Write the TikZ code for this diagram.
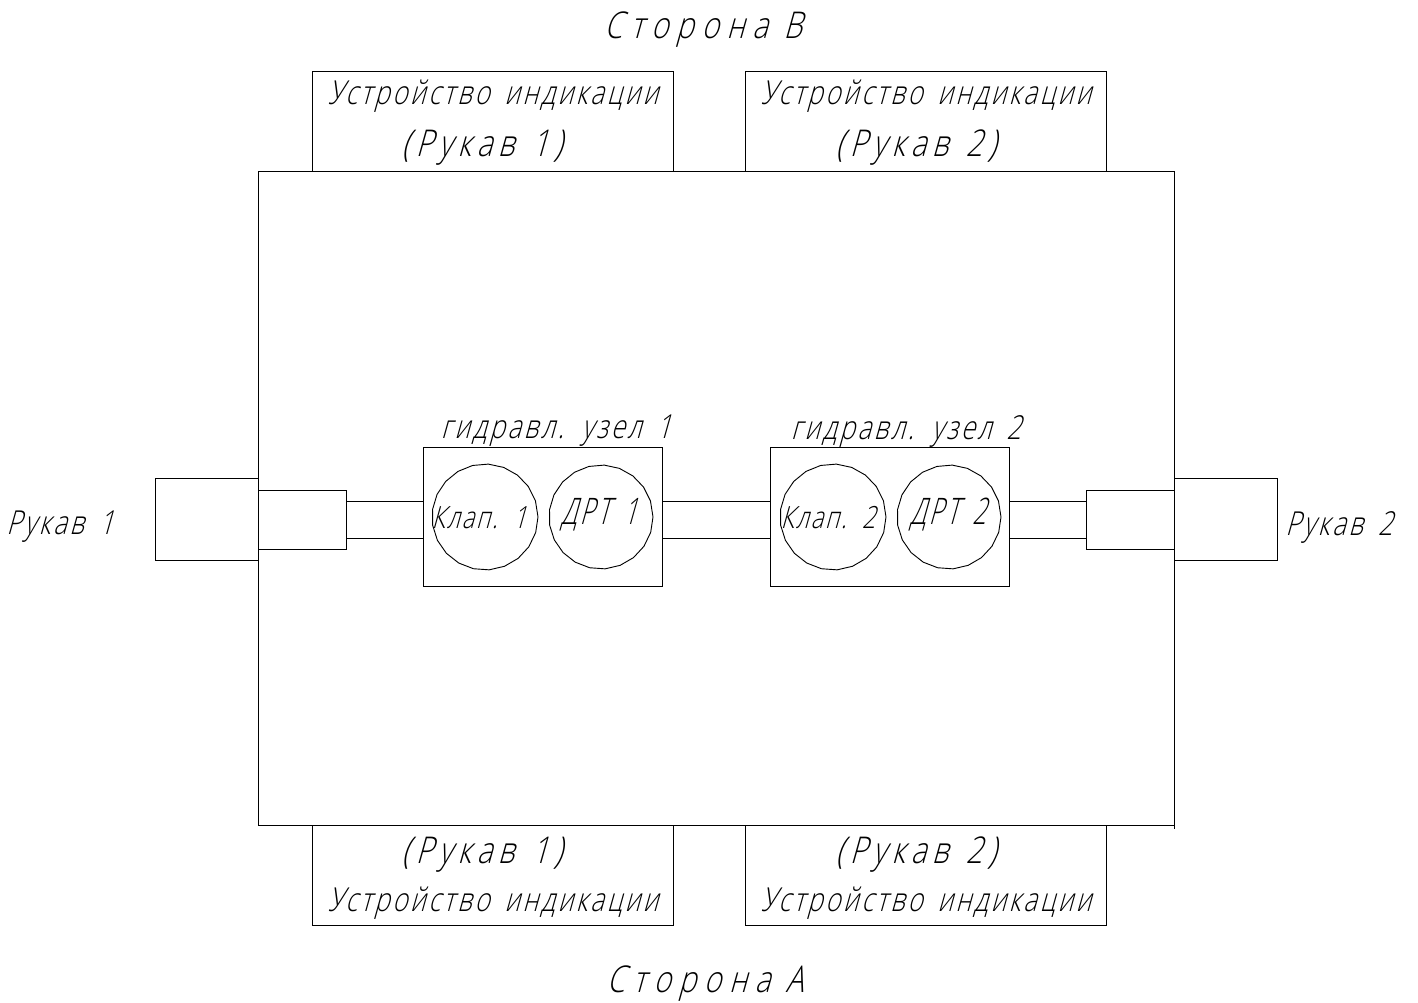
\documentclass[tikz,border=0pt]{standalone}
\usepackage{fontspec}
\newfontfamily\gostA[FakeSlant=0.28,FakeStretch=0.78,LetterSpace=8,WordSpace=1.6]{Open Sans Light}
\newfontfamily\gostB[FakeSlant=0.28,FakeStretch=0.80,LetterSpace=15,WordSpace=1.3]{Open Sans Light}
\newfontfamily\gostE[FakeSlant=0.28,FakeStretch=0.80,LetterSpace=21]{Open Sans Light}
\newfontfamily\gostC[FakeSlant=0.28,FakeStretch=0.77,LetterSpace=6,WordSpace=1.6]{Open Sans Light}
\newfontfamily\gostD[FakeSlant=0.28,FakeStretch=0.66,LetterSpace=8,WordSpace=1.5]{Open Sans Light}
\tikzset{
  px/.style={x=0.01cm,y=-0.01cm},
  ln/.style={draw=black,line width=0.26pt},
  lab/.style={inner sep=0pt,font=\gostA\fontsize{9.4pt}{9.4pt}\selectfont},
  big/.style={inner sep=0pt,font=\gostB\fontsize{10.5pt}{10.5pt}\selectfont},
  side/.style={inner sep=0pt,font=\gostE\fontsize{10.5pt}{10.5pt}\selectfont},
  klap/.style={inner sep=0pt,font=\gostC\fontsize{8.7pt}{8.7pt}\selectfont},
  drt/.style={inner sep=0pt,font=\gostD\fontsize{10.4pt}{10.4pt}\selectfont},
}
\begin{document}
\begin{tikzpicture}[px]
\useasboundingbox (0,0) rectangle (1418,1003);
\path[fill=white] (0,0) rectangle (1418,1003);
% body
\draw[ln] (258,171) rectangle (1174,825);
\draw[ln] (1174,825) -- (1174,829);
% indicator boxes
\draw[ln] (312,171) -- (312,71) -- (673,71) -- (673,171);
\draw[ln] (745,171) -- (745,71) -- (1106,71) -- (1106,171);
\draw[ln] (312,825) -- (312,925) -- (673,925) -- (673,825);
\draw[ln] (745,825) -- (745,925) -- (1106,925) -- (1106,825);
% hose ports
\draw[ln] (258,478) -- (155,478) -- (155,560) -- (258,560);
\draw[ln] (258,490) -- (346,490) -- (346,549) -- (258,549);
\draw[ln] (1174,478) -- (1277,478) -- (1277,560) -- (1174,560);
\draw[ln] (1174,490) -- (1086,490) -- (1086,549) -- (1174,549);
% pipes
\foreach \yy in {501,538} {
  \draw[ln] (346,\yy) -- (423,\yy);
  \draw[ln] (662,\yy) -- (770,\yy);
  \draw[ln] (1009,\yy) -- (1086,\yy);
}
% hydraulic units
\draw[ln] (423,447) rectangle (662,586);
\draw[ln] (770,447) rectangle (1009,586);
% polygonal circles
\foreach \cx/\rr in {485/53,601/52,833/53,949/52} {
  \draw[ln] plot[samples=21,domain=0:342] ({\cx+\rr*cos(\x)},{517+\rr*sin(\x)}) -- cycle;
}
% labels
\node[side] (sb) at (703,30) {Сторона В};
\node[side] (sa) at (705,984) {Сторона А};
\node[lab] (t1) at (493,96) {Устройство индикации};
\node[lab] (t2) at (926,96) {Устройство индикации};
\node[big] (r1) at (482,148) {(Рукав 1)};
\node[big] (r2) at (916,148) {(Рукав 2)};
\node[big] (r3) at (482,855) {(Рукав 1)};
\node[big] (r4) at (916,855) {(Рукав 2)};
\node[lab] (b1) at (493,903) {Устройство индикации};
\node[lab] (b2) at (926,903) {Устройство индикации};
\node[lab] (g1) at (556,431) {гидравл. узел 1};
\node[lab] (g2) at (906,431) {гидравл. узел 2};
\node[klap] (k1) at (479,518) {Клап. 1};
\node[drt] (d1) at (599,515) {ДРТ 1};
\node[klap] (k2) at (828,518) {Клап. 2};
\node[drt] (d2) at (948,515) {ДРТ 2};
\node[lab] (h1) at (60,527) {Рукав 1};
\node[lab] (h2) at (1339,527) {Рукав 2};
\end{tikzpicture}
\end{document}
